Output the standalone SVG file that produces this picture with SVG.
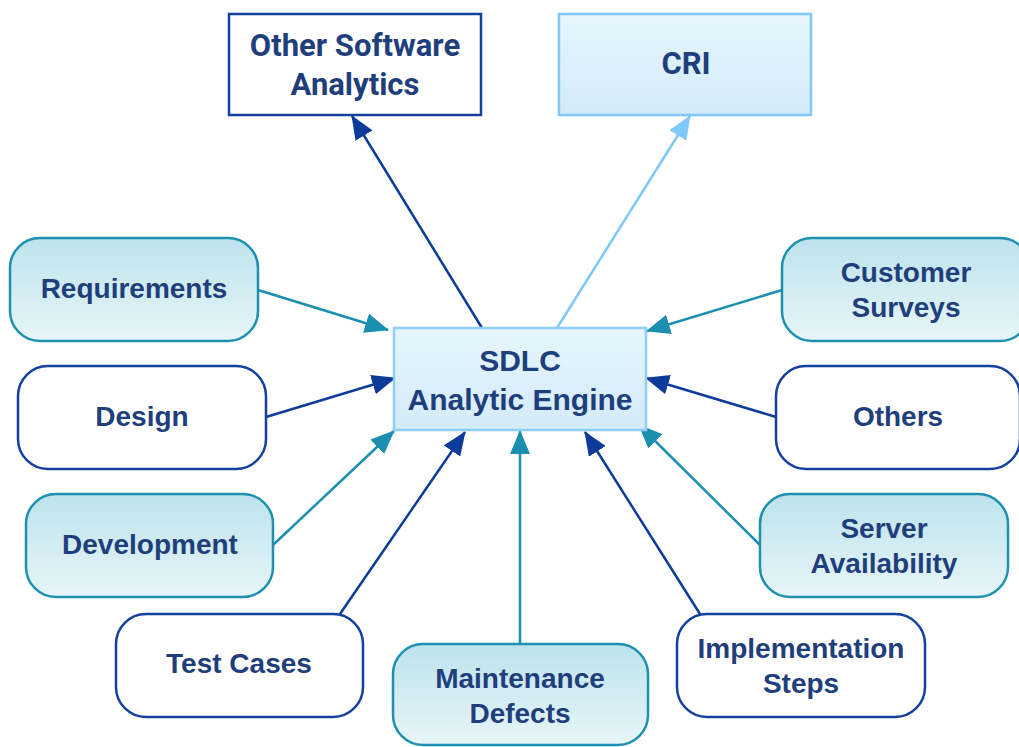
<svg xmlns="http://www.w3.org/2000/svg" width="1019" height="747" viewBox="0 0 1019 747">
<defs>
<linearGradient id="gTeal" x1="0" y1="0" x2="0" y2="1">
<stop offset="0" stop-color="#bde3ec"/>
<stop offset="1" stop-color="#e7f5f8"/>
</linearGradient>
<linearGradient id="gBlue" x1="0" y1="0" x2="0" y2="1">
<stop offset="0" stop-color="#e6f5fc"/>
<stop offset="1" stop-color="#d3ebfa"/>
</linearGradient>
<marker id="mDark" viewBox="0 0 24 20" refX="23" refY="10" markerWidth="24" markerHeight="20" markerUnits="userSpaceOnUse" orient="auto">
<path d="M0,0 L24,10 L0,20 z" fill="#0d3b9a"/>
</marker>
<marker id="mTeal" viewBox="0 0 24 20" refX="23" refY="10" markerWidth="24" markerHeight="20" markerUnits="userSpaceOnUse" orient="auto">
<path d="M0,0 L24,10 L0,20 z" fill="#1a8fb0"/>
</marker>
<marker id="mLight" viewBox="0 0 24 20" refX="23" refY="10" markerWidth="24" markerHeight="20" markerUnits="userSpaceOnUse" orient="auto">
<path d="M0,0 L24,10 L0,20 z" fill="#7fc8fb"/>
</marker>
</defs>
<style>
text{font-family:"Liberation Sans",Arial,sans-serif;font-weight:bold;font-size:28px;fill:#1f3f7c;text-anchor:middle}
.big{font-size:30px}
.rob{font-family:Roboto,"Liberation Sans",sans-serif;font-size:31px}
.teal{fill:url(#gTeal);stroke:#1f90b0;stroke-width:2.5}
.white{fill:#ffffff;stroke:#1540a0;stroke-width:2.5}
.cd{stroke:#0d3b9a;stroke-width:2.5;fill:none;marker-end:url(#mDark)}
.ct{stroke:#1a8fb0;stroke-width:2.5;fill:none;marker-end:url(#mTeal)}
.cl{stroke:#7fc8fb;stroke-width:2.5;fill:none;marker-end:url(#mLight)}
</style>
<rect width="1019" height="747" fill="#ffffff"/>
<g id="connectors">
<line class="cd" x1="482" y1="328" x2="352" y2="116"/>
<line class="cl" x1="557" y1="328" x2="690" y2="116"/>
<line class="ct" x1="258" y1="290" x2="388" y2="330"/>
<line class="cd" x1="266" y1="417" x2="395" y2="378"/>
<line class="ct" x1="273" y1="545" x2="394" y2="431"/>
<line class="cd" x1="340" y1="614" x2="465" y2="432"/>
<line class="ct" x1="520" y1="644" x2="520" y2="431"/>
<line class="cd" x1="700" y1="614" x2="585" y2="432"/>
<line class="ct" x1="760" y1="545" x2="639" y2="425"/>
<line class="cd" x1="776" y1="417" x2="646" y2="378"/>
<line class="ct" x1="782" y1="290" x2="647" y2="331"/>
</g>
<g id="center">
<rect x="394" y="328" width="252" height="102" fill="url(#gBlue)" stroke="#8ecdf6" stroke-width="2.5"/>
<text class="big" x="520" y="371">SDLC</text>
<text class="big" x="520" y="410">Analytic Engine</text>
</g>
<g id="other-software">
<rect x="229" y="14" width="252" height="101" fill="#ffffff" stroke="#1540a0" stroke-width="2.5"/>
<text class="rob" x="355" y="56">Other Software</text>
<text class="rob" x="355" y="95">Analytics</text>
</g>
<g id="cri">
<rect x="559" y="14" width="252" height="101" fill="url(#gBlue)" stroke="#7fc8fb" stroke-width="2.5"/>
<text class="rob" x="686" y="74">CRI</text>
</g>
<g id="requirements">
<rect class="teal" x="10" y="238" width="248" height="103" rx="30"/>
<text x="134" y="298">Requirements</text>
</g>
<g id="design">
<rect class="white" x="18" y="366" width="248" height="103" rx="30"/>
<text x="142" y="426">Design</text>
</g>
<g id="development">
<rect class="teal" x="26" y="494" width="247" height="103" rx="30"/>
<text x="150" y="554">Development</text>
</g>
<g id="test-cases">
<rect class="white" x="116" y="614" width="247" height="103" rx="30"/>
<text x="239" y="673">Test Cases</text>
</g>
<g id="maintenance">
<rect class="teal" x="393" y="644" width="255" height="101" rx="30"/>
<text x="520" y="688">Maintenance</text>
<text x="520" y="723">Defects</text>
</g>
<g id="implementation">
<rect class="white" x="677" y="614" width="248" height="103" rx="30"/>
<text x="801" y="658">Implementation</text>
<text x="801" y="693">Steps</text>
</g>
<g id="server">
<rect class="teal" x="760" y="494" width="248" height="103" rx="30"/>
<text x="884" y="538">Server</text>
<text x="884" y="573">Availability</text>
</g>
<g id="others">
<rect class="white" x="776" y="366" width="244" height="103" rx="30"/>
<text x="898" y="426">Others</text>
</g>
<g id="customer">
<rect class="teal" x="782" y="238" width="248" height="103" rx="30"/>
<text x="906" y="282">Customer</text>
<text x="906" y="317">Surveys</text>
</g>
</svg>
